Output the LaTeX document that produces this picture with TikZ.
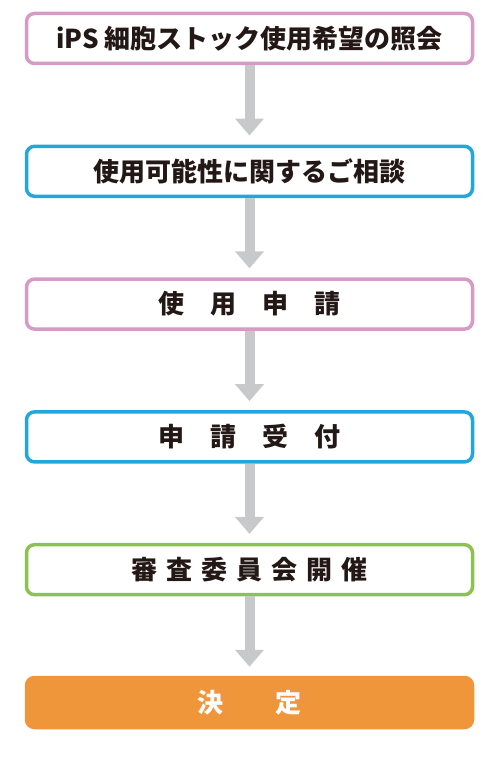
\documentclass[tikz,border=0pt]{standalone}
\usepackage{fontspec}
\usetikzlibrary{positioning,arrows.meta}
\newfontfamily\jpfont{Noto Sans CJK JP}

\begin{document}
\begin{tikzpicture}[
    x=1pt, y=-1pt,
    stepbox/.style={draw, line width=3.5pt, rounded corners=8pt, fill=white,
        minimum width=446pt, minimum height=50pt, inner sep=0pt,
        font=\jpfont\bfseries\fontsize{26}{30}\selectfont, text=textdark},
    flowarrow/.style={draw=arrowgray, line width=10pt,
        -{Triangle[width=28pt, length=17pt]}, shorten >=9pt}
]

% Define colors
\definecolor{pinkline}{RGB}{213,155,196}
\definecolor{blueline}{RGB}{34,166,222}
\definecolor{greenline}{RGB}{141,193,82}
\definecolor{orangefill}{RGB}{240,150,58}
\definecolor{arrowgray}{RGB}{200,201,202}
\definecolor{textdark}{RGB}{35,24,21}

% Page frame
\useasboundingbox (0,0) rectangle (500,759);

% Steps of the procedure
\node[stepbox, draw=pinkline] (inquiry) at (249.5,38.5) {iPS 細胞ストック使用希望の照会};
\node[stepbox, draw=blueline] (consult) at (249.5,171.3) {使用可能性に関するご相談};
\node[stepbox, draw=pinkline] (apply) at (249.5,304.1) {使\hspace{1em}用\hspace{1em}申\hspace{1em}請};
\node[stepbox, draw=blueline] (accept) at (249.5,436.9) {申\hspace{1em}請\hspace{1em}受\hspace{1em}付};
\node[stepbox, draw=greenline] (review) at (249.5,569.7) {審\hspace{0.35em}査\hspace{0.35em}委\hspace{0.35em}員\hspace{0.35em}会\hspace{0.35em}開\hspace{0.35em}催};
\node[stepbox, draw=orangefill, fill=orangefill, text=white] (decision) at (249.5,702.5) {決\hspace{2em}定};

% Arrows between steps
\draw[flowarrow] (inquiry) -- (consult);
\draw[flowarrow] (consult) -- (apply);
\draw[flowarrow] (apply) -- (accept);
\draw[flowarrow] (accept) -- (review);
\draw[flowarrow] (review) -- (decision);

\end{tikzpicture}
\end{document}
